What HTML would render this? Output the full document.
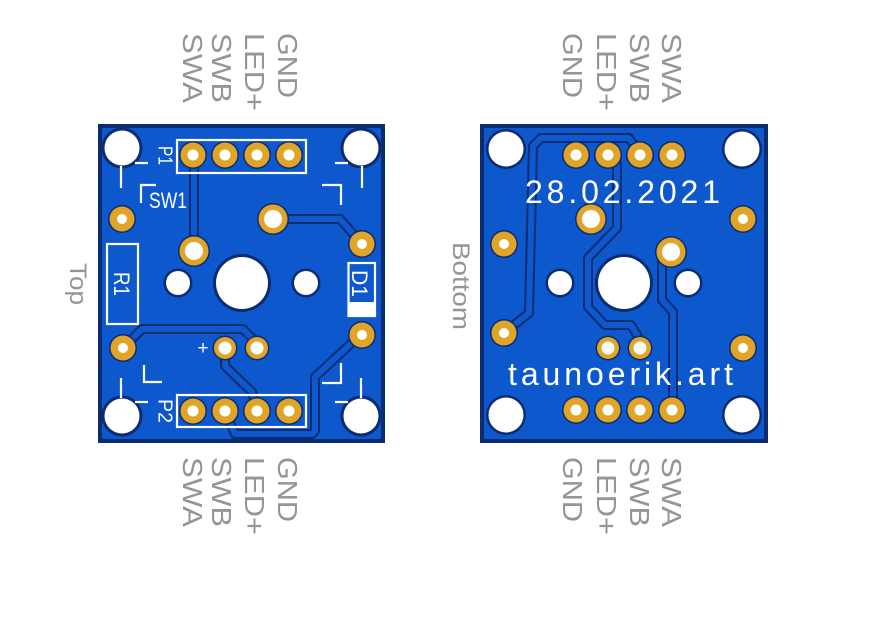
<!DOCTYPE html>
<html><head><meta charset="utf-8"><style>
html,body{margin:0;padding:0;background:#fff;}
svg{display:block;}
text{font-family:"Liberation Sans",sans-serif;}
</style></head><body>
<svg width="880" height="628" viewBox="0 0 880 628" xmlns="http://www.w3.org/2000/svg">
<rect width="880" height="628" fill="#fff"/>

<!-- ================= LEFT BOARD (Top) ================= -->
<rect x="98" y="124" width="287" height="319" fill="#0b2c70"/>
<rect x="102" y="128" width="279" height="311" rx="2" fill="#0c58cc"/>

<g fill="none" stroke-linejoin="round" stroke-linecap="round">
 <g stroke="#0b2c70" stroke-width="10">
  <path d="M194,158 L194,251"/>
  <path d="M273,219 L340,219 L362,244"/>
  <path d="M123,348 L142,329 L243,329 L257,343"/>
  <path d="M225,348 L225,366 L252,392 L257,411"/>
  <path d="M225,411 L235,434 L312,434 L315,431 L315,377 L358,337"/>
 </g>
 <g stroke="#0c58cc" stroke-width="6">
  <path d="M194,158 L194,251"/>
  <path d="M273,219 L340,219 L362,244"/>
  <path d="M123,348 L142,329 L243,329 L257,343"/>
  <path d="M225,348 L225,366 L252,392 L257,411"/>
  <path d="M225,411 L235,434 L312,434 L315,431 L315,377 L358,337"/>
 </g>
</g>

<g fill="#0b2c70">
 <circle cx="122" cy="148" r="20.5"/><circle cx="361" cy="148" r="20.5"/>
 <circle cx="122" cy="416" r="20.5"/><circle cx="361" cy="416" r="20.5"/>
 <circle cx="242" cy="283" r="29"/>
 <circle cx="178" cy="283" r="14.5"/><circle cx="306" cy="283" r="14.5"/>
</g>
<g fill="#fff">
 <circle cx="122" cy="148" r="17.5"/><circle cx="361" cy="148" r="17.5"/>
 <circle cx="122" cy="416" r="17.5"/><circle cx="361" cy="416" r="17.5"/>
 <circle cx="242" cy="283" r="26"/>
 <circle cx="178" cy="283" r="12"/><circle cx="306" cy="283" r="12"/>
</g>

<g fill="#0b2c70">
 <circle cx="193" cy="155" r="14"/><circle cx="225" cy="155" r="14"/><circle cx="257" cy="155" r="14"/><circle cx="289" cy="155" r="14"/>
 <circle cx="193" cy="411" r="14"/><circle cx="225" cy="411" r="14"/><circle cx="257" cy="411" r="14"/><circle cx="289" cy="411" r="14"/>
 <circle cx="122" cy="219" r="14"/><circle cx="123" cy="348" r="14"/>
 <circle cx="362" cy="244" r="14"/><circle cx="362" cy="335" r="14"/>
 <circle cx="194" cy="251" r="16"/><circle cx="273" cy="219" r="16"/>
 <circle cx="225" cy="348" r="12.5"/><circle cx="257" cy="348" r="12.5"/>
</g>
<g fill="#dfa428">
 <circle cx="193" cy="155" r="12.5"/><circle cx="225" cy="155" r="12.5"/><circle cx="257" cy="155" r="12.5"/><circle cx="289" cy="155" r="12.5"/>
 <circle cx="193" cy="411" r="12.5"/><circle cx="225" cy="411" r="12.5"/><circle cx="257" cy="411" r="12.5"/><circle cx="289" cy="411" r="12.5"/>
 <circle cx="122" cy="219" r="12.5"/><circle cx="123" cy="348" r="12.5"/>
 <circle cx="362" cy="244" r="12.5"/><circle cx="362" cy="335" r="12.5"/>
 <circle cx="194" cy="251" r="14.5"/><circle cx="273" cy="219" r="14.5"/>
 <circle cx="225" cy="348" r="11"/><circle cx="257" cy="348" r="11"/>
</g>
<g fill="#fff">
 <circle cx="193" cy="155" r="5.5"/><circle cx="225" cy="155" r="5.5"/><circle cx="257" cy="155" r="5.5"/><circle cx="289" cy="155" r="5.5"/>
 <circle cx="193" cy="411" r="5.5"/><circle cx="225" cy="411" r="5.5"/><circle cx="257" cy="411" r="5.5"/><circle cx="289" cy="411" r="5.5"/>
 <circle cx="122" cy="219" r="5"/><circle cx="123" cy="348" r="5"/>
 <circle cx="362" cy="244" r="5"/><circle cx="362" cy="335" r="5"/>
 <circle cx="194" cy="251" r="9"/><circle cx="273" cy="219" r="9"/>
 <circle cx="225" cy="348" r="6.5"/><circle cx="257" cy="348" r="6.5"/>
</g>

<g fill="none" stroke="#fff" stroke-width="2.2">
 <rect x="177" y="140" width="129" height="33"/>
 <rect x="177" y="395" width="129" height="32"/>
 <rect x="107" y="244" width="31" height="80"/>
 <rect x="348.5" y="263" width="26.5" height="53"/>
 <line x1="121" y1="166" x2="121" y2="188"/><line x1="135" y1="163" x2="148" y2="163"/>
 <line x1="362" y1="166" x2="362" y2="188"/><line x1="335" y1="163" x2="348" y2="163"/>
 <line x1="121" y1="378" x2="121" y2="398"/><line x1="135" y1="402" x2="148" y2="402"/>
 <line x1="361" y1="378" x2="361" y2="398"/><line x1="335" y1="402" x2="348" y2="402"/>
 <polyline points="141,203 141,185 156,185"/>
 <polyline points="322,185 341,185 341,205"/>
 <polyline points="144,365 144,382 162,382"/>
 <polyline points="322,383 341,383 341,363"/>
</g>
<rect x="348.5" y="302" width="26.5" height="14" fill="#fff"/>

<g fill="#fff">
 <text transform="translate(158.5,146) rotate(90)" font-size="20" textLength="19" lengthAdjust="spacingAndGlyphs">P1</text>
 <text transform="translate(158.5,399) rotate(90)" font-size="20" textLength="24" lengthAdjust="spacingAndGlyphs">P2</text>
 <text transform="translate(114,272) rotate(90)" font-size="22" textLength="24" lengthAdjust="spacingAndGlyphs">R1</text>
 <text transform="translate(352,270) rotate(90)" font-size="22" textLength="27" lengthAdjust="spacingAndGlyphs">D1</text>
 <text x="149" y="208" font-size="22" textLength="38" lengthAdjust="spacingAndGlyphs">SW1</text>
 <text x="203" y="354" font-size="19" text-anchor="middle">+</text>
</g>

<!-- ================= RIGHT BOARD (Bottom) ================= -->
<rect x="480" y="124" width="288" height="319" fill="#0b2c70"/>
<rect x="484" y="128" width="280" height="311" rx="2" fill="#0c58cc"/>

<g fill="none" stroke-linejoin="round" stroke-linecap="round">
 <g stroke="#0b2c70" stroke-width="10">
  <path d="M504,333 L529,313 L533,146 L541,138 L629,138 L639,152"/>
  <path d="M608,155 L617,164 L617,228 L588,258 L588,307 L605,325 L631,325 L640,340"/>
  <path d="M671,252 L662,262 L662,300 L673,312 L673,410"/>
 </g>
 <g stroke="#0c58cc" stroke-width="6">
  <path d="M504,333 L529,313 L533,146 L541,138 L629,138 L639,152"/>
  <path d="M608,155 L617,164 L617,228 L588,258 L588,307 L605,325 L631,325 L640,340"/>
  <path d="M671,252 L662,262 L662,300 L673,312 L673,410"/>
 </g>
</g>

<g fill="#0b2c70">
 <circle cx="506" cy="149" r="20"/><circle cx="742" cy="149" r="20"/>
 <circle cx="506" cy="415" r="20"/><circle cx="742" cy="415" r="20"/>
 <circle cx="624" cy="283" r="29"/>
 <circle cx="560" cy="283" r="14.5"/><circle cx="688" cy="283" r="14.5"/>
</g>
<g fill="#fff">
 <circle cx="506" cy="149" r="17.5"/><circle cx="742" cy="149" r="17.5"/>
 <circle cx="506" cy="415" r="17.5"/><circle cx="742" cy="415" r="17.5"/>
 <circle cx="624" cy="283" r="26"/>
 <circle cx="560" cy="283" r="12"/><circle cx="688" cy="283" r="12"/>
</g>

<g fill="#0b2c70">
 <circle cx="576" cy="155" r="14"/><circle cx="608" cy="155" r="14"/><circle cx="640" cy="155" r="14"/><circle cx="672" cy="155" r="14"/>
 <circle cx="576" cy="410" r="14"/><circle cx="608" cy="410" r="14"/><circle cx="640" cy="410" r="14"/><circle cx="672" cy="410" r="14"/>
 <circle cx="504" cy="244" r="14"/><circle cx="504" cy="333" r="14"/>
 <circle cx="743" cy="219" r="14"/><circle cx="743" cy="348" r="14"/>
 <circle cx="591" cy="219" r="16"/><circle cx="671" cy="252" r="16"/>
 <circle cx="608" cy="348" r="12.5"/><circle cx="640" cy="348" r="12.5"/>
</g>
<g fill="#dfa428">
 <circle cx="576" cy="155" r="12.5"/><circle cx="608" cy="155" r="12.5"/><circle cx="640" cy="155" r="12.5"/><circle cx="672" cy="155" r="12.5"/>
 <circle cx="576" cy="410" r="12.5"/><circle cx="608" cy="410" r="12.5"/><circle cx="640" cy="410" r="12.5"/><circle cx="672" cy="410" r="12.5"/>
 <circle cx="504" cy="244" r="12.5"/><circle cx="504" cy="333" r="12.5"/>
 <circle cx="743" cy="219" r="12.5"/><circle cx="743" cy="348" r="12.5"/>
 <circle cx="591" cy="219" r="14.5"/><circle cx="671" cy="252" r="14.5"/>
 <circle cx="608" cy="348" r="11"/><circle cx="640" cy="348" r="11"/>
</g>
<g fill="#fff">
 <circle cx="576" cy="155" r="5.5"/><circle cx="608" cy="155" r="5.5"/><circle cx="640" cy="155" r="5.5"/><circle cx="672" cy="155" r="5.5"/>
 <circle cx="576" cy="410" r="5.5"/><circle cx="608" cy="410" r="5.5"/><circle cx="640" cy="410" r="5.5"/><circle cx="672" cy="410" r="5.5"/>
 <circle cx="504" cy="244" r="5"/><circle cx="504" cy="333" r="5"/>
 <circle cx="743" cy="219" r="5"/><circle cx="743" cy="348" r="5"/>
 <circle cx="591" cy="219" r="9"/><circle cx="671" cy="252" r="9"/>
 <circle cx="608" cy="348" r="6.5"/><circle cx="640" cy="348" r="6.5"/>
</g>

<g fill="#fff">
 <text x="525" y="203" font-size="32" textLength="195" lengthAdjust="spacing">28.02.2021</text>
 <text x="508" y="385" font-size="32" textLength="225" lengthAdjust="spacing">taunoerik.art</text>
</g>

<!-- ================= GRAY LABELS ================= -->
<g fill="#959595" font-size="28">
 <text transform="translate(183,33) rotate(90)" textLength="70" lengthAdjust="spacingAndGlyphs">SWA</text>
 <text transform="translate(212,33) rotate(90)" textLength="70" lengthAdjust="spacingAndGlyphs">SWB</text>
 <text transform="translate(245,33) rotate(90)" textLength="78" lengthAdjust="spacingAndGlyphs">LED+</text>
 <text transform="translate(278,33) rotate(90)" textLength="65" lengthAdjust="spacingAndGlyphs">GND</text>
 <text transform="translate(183,457) rotate(90)" textLength="70" lengthAdjust="spacingAndGlyphs">SWA</text>
 <text transform="translate(212,457) rotate(90)" textLength="70" lengthAdjust="spacingAndGlyphs">SWB</text>
 <text transform="translate(245,457) rotate(90)" textLength="78" lengthAdjust="spacingAndGlyphs">LED+</text>
 <text transform="translate(278,457) rotate(90)" textLength="65" lengthAdjust="spacingAndGlyphs">GND</text>
 <text transform="translate(563,33) rotate(90)" textLength="65" lengthAdjust="spacingAndGlyphs">GND</text>
 <text transform="translate(597,33) rotate(90)" textLength="78" lengthAdjust="spacingAndGlyphs">LED+</text>
 <text transform="translate(630,33) rotate(90)" textLength="70" lengthAdjust="spacingAndGlyphs">SWB</text>
 <text transform="translate(662,33) rotate(90)" textLength="70" lengthAdjust="spacingAndGlyphs">SWA</text>
 <text transform="translate(563,457) rotate(90)" textLength="65" lengthAdjust="spacingAndGlyphs">GND</text>
 <text transform="translate(597,457) rotate(90)" textLength="78" lengthAdjust="spacingAndGlyphs">LED+</text>
 <text transform="translate(630,457) rotate(90)" textLength="70" lengthAdjust="spacingAndGlyphs">SWB</text>
 <text transform="translate(662,457) rotate(90)" textLength="70" lengthAdjust="spacingAndGlyphs">SWA</text>
</g>
<g fill="#959595" font-size="24">
 <text transform="translate(70,263) rotate(90)" textLength="42" lengthAdjust="spacingAndGlyphs">Top</text>
 <text transform="translate(453,242) rotate(90)" textLength="88" lengthAdjust="spacingAndGlyphs">Bottom</text>
</g>
</svg>
</body></html>
